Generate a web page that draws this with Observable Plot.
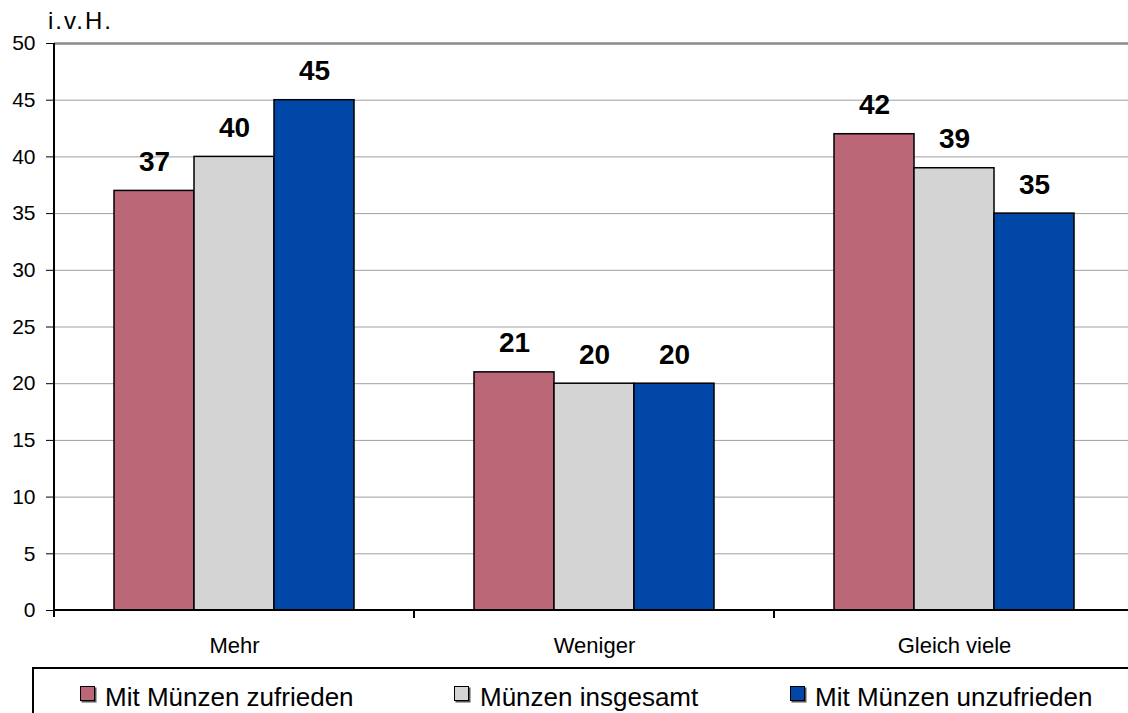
<!DOCTYPE html>
<html>
<head>
<meta charset="utf-8">
<script src="https://cdn.jsdelivr.net/npm/d3@7"></script>
<script src="https://cdn.jsdelivr.net/npm/@observablehq/plot@0.6"></script>
<style>
  html, body { margin: 0; padding: 0; background: #fff; overflow: hidden; width: 1128px; height: 713px; }
  #wrap { position: relative; width: 1128px; height: 713px; overflow: hidden; font-family: "Liberation Sans", Arial, sans-serif; }
  #chart svg { max-width: none !important; display: block; }
  #unit { position: absolute; left: 48px; top: 7px; font-size: 24px; letter-spacing: 2px; color: #000; }
  #legend { position: absolute; left: 32px; top: 667px; width: 1100px; height: 50px;
            border-top: 2px solid #000; border-left: 2px solid #000; }
  .item { position: absolute; font-size: 26px; line-height: 30px; color: #000; white-space: nowrap; }
  .sw { position: absolute; width: 13px; height: 13px; border: 1.5px solid #000;
        box-shadow: 1.5px 1.5px 0 #555; }
</style>
</head>
<body>
<div id="wrap">
  <div id="chart"></div>
  <div id="unit">i.v.H.</div>
  <div id="legend"></div>
</div>
<script>
// Answer categories and the three respondent groups
const categories = ["Mehr", "Weniger", "Gleich viele"];
const groups = ["Mit Münzen zufrieden", "Münzen insgesamt", "Mit Münzen unzufrieden"];

// Shares in percent, one value per category
const zufrieden = [37, 21, 42];
const insgesamt = [40, 20, 39];
const unzufrieden = [45, 20, 35];

const groupColors = ["#BC6777", "#D4D4D4", "#0047A8"];
const yTicks = [0, 5, 10, 15, 20, 25, 30, 35, 40, 45, 50];

const valuesByGroup = [zufrieden, insgesamt, unzufrieden];
const rows = [];
categories.forEach((c, i) => {
  groups.forEach((g, j) => rows.push({category: c, group: g, value: valuesByGroup[j][i]}));
});

const chart = Plot.plot({
  width: 1134,
  height: 660,
  marginLeft: 54,
  marginRight: 0,
  marginTop: 43,
  marginBottom: 50,
  style: {fontFamily: "'Liberation Sans', Arial, sans-serif", background: "transparent", color: "#000", maxWidth: "none"},
  fx: {domain: categories, padding: 0, label: null},
  x: {domain: groups, paddingInner: 0, paddingOuter: 0.75, axis: null},
  y: {domain: [0, 50], label: null},
  color: {domain: groups, range: groupColors},
  marks: [
    Plot.gridY(yTicks, {stroke: "#a0a0a0", strokeOpacity: 1, strokeWidth: 1}),
    Plot.ruleY([50], {stroke: "#8a8a8a", strokeWidth: 2.5}),
    Plot.barY(rows, {fx: "category", x: "group", y: "value", fill: "group", stroke: "#000", strokeWidth: 1.5}),
    Plot.text(rows, {fx: "category", x: "group", y: "value", text: d => String(d.value),
      dy: -29, fontSize: 28, fontWeight: "bold", fill: "#000"}),
    Plot.axisY({ticks: yTicks, tickSize: 8, tickPadding: 11, fontSize: 21, label: null, stroke: "#000"}),
    Plot.axisFx({anchor: "bottom", tickSize: 0, tickPadding: 27, fontSize: 22, label: null})
  ]
});

// Axis lines and the category boundary ticks, placed with the plot's own scales
const fxs = chart.scale("fx");
const ys = chart.scale("y");
const band = d3.scaleBand().domain(fxs.domain).range(fxs.range).padding(0);
const yPos = d3.scaleLinear().domain(ys.domain).range(ys.range);
const svg = d3.select(chart);
const g = svg.append("g").attr("stroke", "#000").attr("stroke-width", 2);
const y0 = yPos(0);
const left = fxs.range[0];
g.append("line").attr("x1", left).attr("x2", fxs.range[1]).attr("y1", y0).attr("y2", y0);
g.append("line").attr("x1", left).attr("x2", left).attr("y1", yPos(50)).attr("y2", y0 + 7);
categories.forEach(c => {
  const xe = band(c) + band.bandwidth();
  g.append("line").attr("x1", xe).attr("x2", xe).attr("y1", y0).attr("y2", y0 + 8);
});

document.getElementById("chart").appendChild(chart);

// Legend row below the chart
const legendX = [{sw: 46, tx: 71}, {sw: 420, tx: 446}, {sw: 756, tx: 781}];
const legend = document.getElementById("legend");
groups.forEach((name, i) => {
  const swatch = document.createElement("div");
  swatch.className = "sw";
  swatch.style.left = legendX[i].sw + "px";
  swatch.style.top = "17px";
  swatch.style.background = groupColors[i];
  legend.appendChild(swatch);
  const label = document.createElement("div");
  label.className = "item";
  label.style.left = legendX[i].tx + "px";
  label.style.top = "13px";
  label.textContent = name;
  legend.appendChild(label);
});
</script>
</body>
</html>
